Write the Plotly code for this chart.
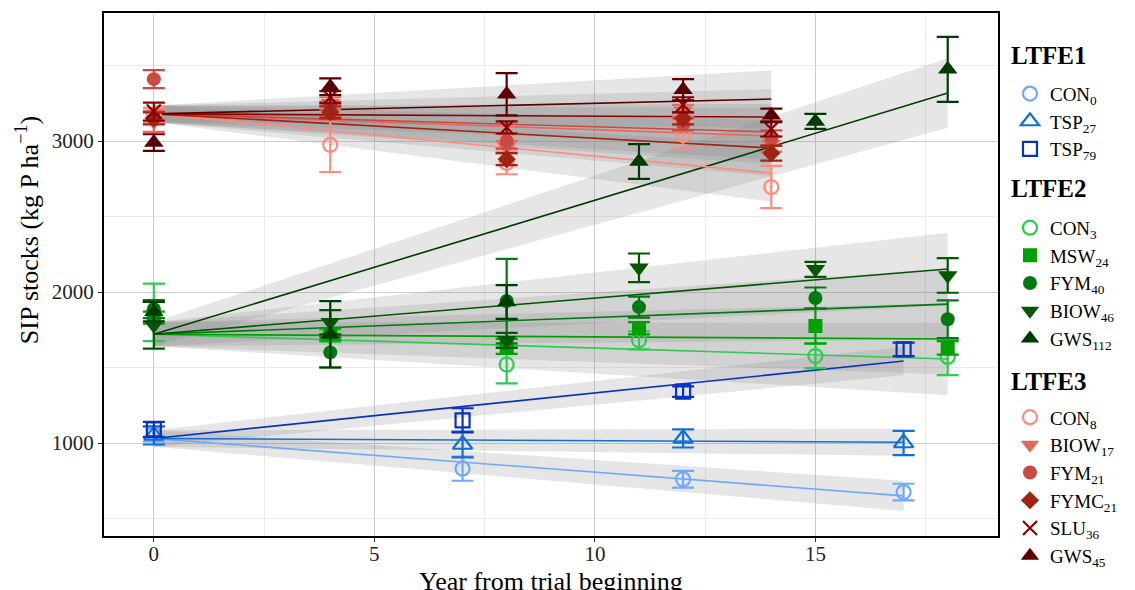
import plotly.graph_objects as go

# years sampled in each long-term field experiment
ltfe1_years = [0, 7, 12, 17]
ltfe2_years = [0, 4, 8, 11, 15, 18]
ltfe3_years = [0, 4, 8, 12, 14]

# LTFE1 means / error bars (kg P ha-1)
con0_mean = [1060, 830, 760, 675]
con0_err = [50, 80, 55, 55]
tsp27_mean = [1050, 990, 1030, 1000]
tsp27_err = [60, 85, 60, 80]
tsp79_mean = [1090, 1150, 1340, 1620]
tsp79_err = [50, 80, 35, 45]

# LTFE2
con3_mean = [1865, 1710, 1520, 1680, 1576, 1570]
con3_err = [190, 40, 125, 60, 80, 120]
msw24_mean = [1830, 1720, 1640, 1760, 1775, 1630]
msw24_err = [40, 40, 50, 40, 115, 45]
fym40_mean = [1887, 1600, 1940, 1900, 1960, 1820]
fym40_err = [60, 100, 280, 70, 70, 125]
biow46_mean = [1780, 1800, 1680, 2160, 2150, 2110]
biow46_err = [155, 80, 50, 95, 50, 115]
gws112_mean = [1870, 1720, 1934, 2865, 3130, 3475]
gws112_err = [65, 220, 112, 115, 50, 215]

# LTFE3
con8_mean = [3170, 2975, 2855, 3040, 2695]
con8_err = [50, 180, 75, 90, 140]
biow17_mean = [3130, 3250, 2960, 3200, 2980]
biow17_err = [70, 40, 40, 40, 50]
fym21_mean = [3410, 3210, 3000, 3110, 3020]
fym21_err = [60, 50, 50, 40, 50]
fymc21_mean = [3150, 3190, 2880, 3150, 2920]
fymc21_err = [40, 40, 40, 40, 50]
slu36_mean = [3195, 3290, 3090, 3240, 3080]
slu36_err = [60, 40, 40, 50, 50]
gws45_mean = [2990, 3360, 3310, 3340, 3170]
gws45_err = [55, 55, 140, 70, 45]

# fitted trend: value at year 0 and at last year, and confidence half-width there
fit_start = {"LTFE1": 1030, "LTFE2": 1720, "LTFE3": 3180}
band_start = {"LTFE1": 55, "LTFE2": 80, "LTFE3": 55}
fit_end = {
    "CON0": 650, "TSP27": 1005, "TSP79": 1543,
    "CON3": 1556, "MSW24": 1689, "FYM40": 1920, "BIOW46": 2152, "GWS112": 3318,
    "CON8": 2788, "BIOW17": 3033, "FYM21": 3060, "FYMC21": 2954, "SLU36": 3159, "GWS45": 3278,
}
band_end = {
    "CON0": 100, "TSP27": 90, "TSP79": 95,
    "CON3": 240, "MSW24": 235, "FYM40": 235, "BIOW46": 240, "GWS112": 230,
    "CON8": 190, "BIOW17": 185, "FYM21": 185, "FYMC21": 185, "SLU36": 185, "GWS45": 190,
}

groups = ["LTFE1", "LTFE2", "LTFE3"]

treatments = [
    ("LTFE1", "CON0", "CON<sub>0</sub>", ltfe1_years, con0_mean, con0_err, "#6fa8ff", "circle-open"),
    ("LTFE1", "TSP27", "TSP<sub>27</sub>", ltfe1_years, tsp27_mean, tsp27_err, "#1070d6", "triangle-up-open"),
    ("LTFE1", "TSP79", "TSP<sub>79</sub>", ltfe1_years, tsp79_mean, tsp79_err, "#0a32c0", "square-open"),
    ("LTFE2", "CON3", "CON<sub>3</sub>", ltfe2_years, con3_mean, con3_err, "#2fca50", "circle-open"),
    ("LTFE2", "MSW24", "MSW<sub>24</sub>", ltfe2_years, msw24_mean, msw24_err, "#00a000", "square"),
    ("LTFE2", "FYM40", "FYM<sub>40</sub>", ltfe2_years, fym40_mean, fym40_err, "#007a10", "circle"),
    ("LTFE2", "BIOW46", "BIOW<sub>46</sub>", ltfe2_years, biow46_mean, biow46_err, "#005800", "triangle-down"),
    ("LTFE2", "GWS112", "GWS<sub>112</sub>", ltfe2_years, gws112_mean, gws112_err, "#003c00", "triangle-up"),
    ("LTFE3", "CON8", "CON<sub>8</sub>", ltfe3_years, con8_mean, con8_err, "#ff8a80", "circle-open"),
    ("LTFE3", "BIOW17", "BIOW<sub>17</sub>", ltfe3_years, biow17_mean, biow17_err, "#e8665e", "triangle-down"),
    ("LTFE3", "FYM21", "FYM<sub>21</sub>", ltfe3_years, fym21_mean, fym21_err, "#c84a40", "circle"),
    ("LTFE3", "FYMC21", "FYMC<sub>21</sub>", ltfe3_years, fymc21_mean, fymc21_err, "#a02412", "diamond"),
    ("LTFE3", "SLU36", "SLU<sub>36</sub>", ltfe3_years, slu36_mean, slu36_err, "#8b0000", "x-thin-open"),
    ("LTFE3", "GWS45", "GWS<sub>45</sub>", ltfe3_years, gws45_mean, gws45_err, "#5a0000", "triangle-up"),
]

FONT = "Liberation Serif"
fig = go.Figure()

# confidence ribbons
for grp, key, label, yrs, mean, err, col, sym in treatments:
    x0, x1 = yrs[0], yrs[-1]
    y0, y1 = fit_start[grp], fit_end[key]
    h0, h1 = band_start[grp], band_end[key]
    fig.add_trace(go.Scatter(
        x=[x0, x1, x1, x0, x0],
        y=[y0 - h0, y1 - h1, y1 + h1, y0 + h0, y0 - h0],
        fill="toself", fillcolor="rgba(128,128,128,0.2)",
        line=dict(width=0), mode="lines", hoverinfo="skip",
        showlegend=False, legendgroup=grp,
    ))

# regression lines
for grp, key, label, yrs, mean, err, col, sym in treatments:
    fig.add_trace(go.Scatter(
        x=[yrs[0], yrs[-1]], y=[fit_start[grp], fit_end[key]],
        mode="lines", line=dict(color=col, width=1.6),
        showlegend=False, legendgroup=grp, hoverinfo="skip",
    ))

# observed means with error bars
for grp, key, label, yrs, mean, err, col, sym in treatments:
    open_sym = "open" in sym
    size = 17 if "triangle" in sym else 14
    fig.add_trace(go.Scatter(
        x=yrs, y=mean, mode="markers", name=label,
        legendgroup=grp,
        marker=dict(symbol=sym, size=size, color=col,
                    line=dict(color=col, width=2.2 if open_sym else 0)),
        error_y=dict(type="data", array=err, color=col, thickness=2.2, width=11),
    ))

# legend group headings (placed above each block of legend entries)
heading_y = [0.918, 0.665, 0.296]
for grp, hy in zip(groups, heading_y):
    fig.add_annotation(
        text="<b>" + grp + "</b>", xref="paper", yref="paper",
        x=1.012, y=hy, xanchor="left", yanchor="middle", showarrow=False,
        font=dict(size=25, family=FONT, color="black"),
    )

# axis titles as annotations (the original is cropped at the bottom)
fig.add_annotation(
    text="SIP stocks (kg P ha<sup>\u22121</sup>)", xref="paper", yref="paper",
    x=-0.086, y=0.585, xanchor="center", yanchor="middle", textangle=-90,
    showarrow=False, font=dict(size=26, family=FONT, color="black"),
)
fig.add_annotation(
    text="Year from trial beginning", xref="paper", yref="paper",
    x=0.5, y=-0.056, xanchor="center", yanchor="top",
    showarrow=False, font=dict(size=26, family=FONT, color="black"),
)

# the page adds an 8px body margin, so the figure is 8px smaller than the window
fig.update_layout(
    width=1127, height=582,
    margin=dict(l=96, r=137, t=5, b=54, autoexpand=False),
    plot_bgcolor="white", paper_bgcolor="white",
    font=dict(family=FONT, size=20, color="black"),
    legend=dict(
        x=1.0134, y=0.882, xanchor="left", yanchor="top",
        font=dict(size=19, family=FONT), tracegroupgap=51,
        traceorder="grouped", itemwidth=30,
    ),
)
fig.update_xaxes(
    range=[-1.13, 19.14], tickvals=[0, 5, 10, 15], ticks="outside", ticklen=4,
    tickcolor="#333", tickfont=dict(size=21, color="#222"), ticklabelstandoff=-6,
    showgrid=True, gridcolor="#cccccc", gridwidth=1.3,
    minor=dict(dtick=2.5, tick0=0, showgrid=True, gridcolor="#ebebeb", gridwidth=1),
    showline=True, mirror=True, linecolor="black", linewidth=2, zeroline=False,
    automargin=False,
)
fig.update_yaxes(
    range=[384, 3848], tickvals=[1000, 2000, 3000], ticks="outside", ticklen=4,
    tickcolor="#333", tickfont=dict(size=21, color="#222"),
    showgrid=True, gridcolor="#cccccc", gridwidth=1.3,
    minor=dict(dtick=500, tick0=0, showgrid=True, gridcolor="#ebebeb", gridwidth=1),
    showline=True, mirror=True, linecolor="black", linewidth=2, zeroline=False,
    automargin=False,
)

fig.write_html("out.html")
